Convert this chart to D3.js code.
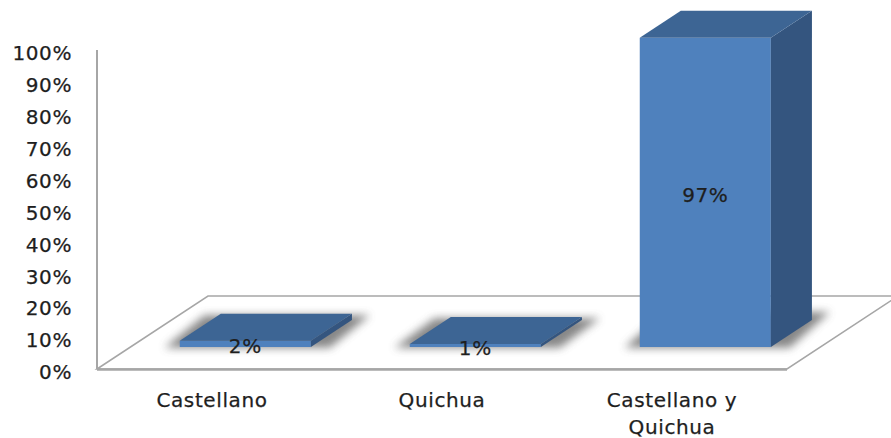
<!DOCTYPE html>
<html>
<head>
<meta charset="utf-8">
<script src="https://cdn.jsdelivr.net/npm/d3@7"></script>
<style>
  body { margin: 0; background: #fff; }
  svg { display: block; }
  text { font-family: "DejaVu Sans", Verdana, sans-serif; fill: #1e1e1e;
         stroke: #1e1e1e; stroke-width: 0.25px; letter-spacing: 0.6px; }
</style>
</head>
<body>
<div id="chart"></div>
<script>
// data
const categories = ["Castellano", "Quichua", "Castellano y Quichua"];
const values = [0.02, 0.01, 0.97];
const valueLabels = ["2%", "1%", "97%"];
const yTicks = [0, 0.1, 0.2, 0.3, 0.4, 0.5, 0.6, 0.7, 0.8, 0.9, 1.0];

const FRONT = "#4f81bd", TOP = "#3d6594", SIDE = "#34557f";

const width = 891, height = 438;
const floorLeft = 97, floorRight = 787;
// depth vector of the floor (front -> back)
const depthX = 111, depthY = -73;
const barZ0 = 0.30, barZ1 = 0.67;

var svg = d3.select("#chart")
  .append("svg")
    .attr("width", width)
    .attr("height", height);

var x = d3.scaleBand()
  .domain(categories)
  .range([floorLeft, floorRight])
  .paddingInner(0.43)
  .paddingOuter(0.215);

var y = d3.scaleLinear()
  .domain([0, 1])
  .range([369, 50]);

// project (screen x at floor front, value, depth 0..1)
function pt(px, v, z) {
  return [px + z * depthX, y(v) + z * depthY];
}
function poly(points) {
  return points.map(p => p.join(",")).join(" ");
}

var defs = svg.append("defs");
defs.append("filter")
    .attr("id", "shadow")
    .attr("x", "-50%").attr("y", "-50%")
    .attr("width", "200%").attr("height", "200%")
  .append("feGaussianBlur")
    .attr("stdDeviation", 4);

// floor
svg.append("polygon")
  .attr("points", poly([
    pt(floorLeft, 0, 0), pt(floorLeft, 0, 1),
    pt(floorRight, 0, 1), pt(floorRight, 0, 0)]))
  .attr("fill", "#fff")
  .attr("stroke", "#a6a6a6")
  .attr("stroke-width", 1.5);
svg.append("line")
  .attr("x1", floorLeft).attr("x2", floorRight)
  .attr("y1", y(0) + 0.5).attr("y2", y(0) + 0.5)
  .attr("stroke", "#a6a6a6")
  .attr("stroke-width", 2.5);

// vertical axis line
svg.append("line")
  .attr("x1", floorLeft).attr("x2", floorLeft)
  .attr("y1", y(1)).attr("y2", y(0))
  .attr("stroke", "#a6a6a6")
  .attr("stroke-width", 2);

// y tick labels
svg.append("g").selectAll("text")
  .data(yTicks)
  .enter()
  .append("text")
    .attr("x", 72)
    .attr("y", d => y(d) + 3)
    .attr("dy", "0.36em")
    .attr("text-anchor", "end")
    .style("font-size", "20px")
    .text(d => d3.format(".0%")(d));

var bars = svg.append("g").selectAll("g")
  .data(categories)
  .enter()
  .append("g");

// soft shadow around the base of each bar
bars.append("polygon")
  .attr("points", (d, i) => {
    var x0 = x(d) - 14, x1 = x(d) + x.bandwidth() + 20;
    var v = Math.min(values[i], 0.03);
    return poly([pt(x0, 0, barZ0 - 0.01), pt(x0, v, barZ1 - 0.02),
                 pt(x1, v, barZ1 - 0.02), pt(x1, 0, barZ0 - 0.01)]);
  })
  .attr("fill", "#555")
  .attr("opacity", 0.7)
  .attr("filter", "url(#shadow)");

// front face
bars.append("polygon")
  .attr("points", (d, i) => {
    var x0 = x(d), x1 = x(d) + x.bandwidth();
    return poly([pt(x0, 0, barZ0), pt(x0, values[i], barZ0),
                 pt(x1, values[i], barZ0), pt(x1, 0, barZ0)]);
  })
  .attr("fill", FRONT);

// side face
bars.append("polygon")
  .attr("points", (d, i) => {
    var x1 = x(d) + x.bandwidth();
    return poly([pt(x1, 0, barZ0), pt(x1, values[i], barZ0),
                 pt(x1, values[i], barZ1), pt(x1, 0, barZ1)]);
  })
  .attr("fill", SIDE);

// top face
bars.append("polygon")
  .attr("points", (d, i) => {
    var x0 = x(d), x1 = x(d) + x.bandwidth();
    return poly([pt(x0, values[i], barZ0), pt(x0, values[i], barZ1),
                 pt(x1, values[i], barZ1), pt(x1, values[i], barZ0)]);
  })
  .attr("fill", TOP);

// value labels in the middle of the front face
bars.append("text")
  .attr("x", d => pt(x(d) + x.bandwidth() / 2, 0, barZ0)[0])
  .attr("y", (d, i) => (pt(0, 0, barZ0)[1] + pt(0, values[i], barZ0)[1]) / 2 + 2)
  .attr("dy", "0.36em")
  .attr("text-anchor", "middle")
  .style("font-size", "20px")
  .text((d, i) => valueLabels[i]);

// category labels, wrapped
var cat = svg.append("g").selectAll("text")
  .data(categories)
  .enter()
  .append("text")
    .attr("x", d => x(d) + x.bandwidth() / 2)
    .attr("y", 407)
    .attr("text-anchor", "middle")
    .style("font-size", "20px");

cat.each(function(d) {
  var el = d3.select(this);
  var words = d.split(" "), line = [], lines = [];
  words.forEach(w => {
    var test = line.concat([w]).join(" ");
    el.text(test);
    if (this.getComputedTextLength() > 190 && line.length) {
      lines.push(line.join(" "));
      line = [w];
    } else {
      line.push(w);
    }
  });
  lines.push(line.join(" "));
  el.text(null);
  lines.forEach((l, k) => {
    el.append("tspan")
      .attr("x", el.attr("x"))
      .attr("dy", k === 0 ? 0 : 27)
      .text(l);
  });
});
</script>
</body>
</html>
